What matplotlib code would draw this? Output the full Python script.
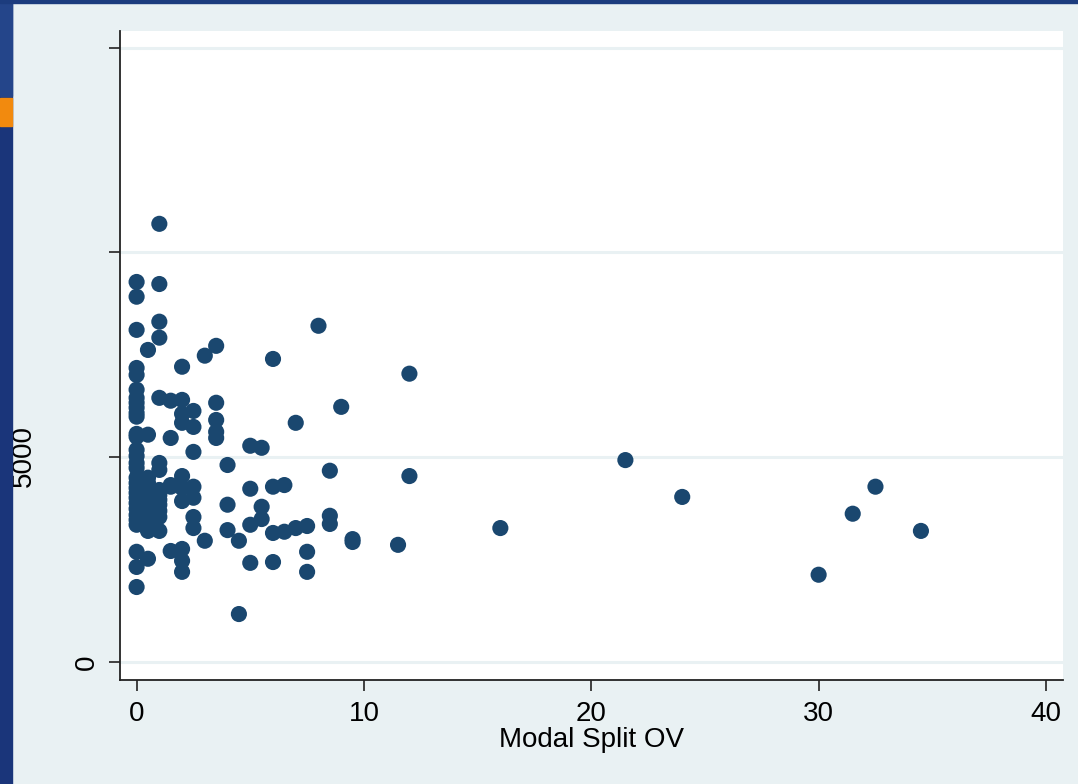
import matplotlib.pyplot as plt
from matplotlib.patches import Rectangle

plt.rcParams['font.family'] = ['Liberation Sans', 'DejaVu Sans']

# modal split of public transport (%) and the outcome per municipality
modal_split = (
    [0] * 30 + [0.5] * 12 + [1] * 14 + [1.5] * 5 + [2] * 10 + [2.5] * 7
    + [3] * 2 + [3.5] * 5 + [4] * 3 + [4.5] * 2 + [5] * 4 + [5.5] * 3
    + [6] * 4 + [6.5] * 2 + [7] * 2 + [7.5] * 3 + [8] + [8.5] * 3 + [9]
    + [9.5] * 2 + [11.5] + [12] * 2 + [16] + [21.5] + [24] + [30]
    + [31.5] + [32.5] + [34.5]
)
value = [
    # 0
    9280, 8920, 8110, 7180, 7010, 6650, 6450, 6330, 6210, 6080,
    5990, 5570, 5500, 5180, 5030, 4860, 4740, 4500, 4370, 4250,
    4130, 4010, 3880, 3740, 3590, 3470, 3350, 2690, 2320, 1830,
    # 0.5
    7620, 5550, 4500, 4370, 4200, 4030, 3880, 3710, 3570, 3420, 3200, 2520,
    # 1
    10700, 9230, 8310, 7920, 6450, 4860, 4690, 4200, 4080, 3960,
    3840, 3690, 3540, 3200,
    # 1.5
    6380, 5470, 4320, 4280, 2710,
    # 2
    7210, 6400, 6060, 5840, 4540, 4250, 3930, 2760, 2470, 2200,
    # 2.5
    6130, 5740, 5130, 4280, 4010, 3540, 3270,
    # 3
    7480, 2960,
    # 3.5
    7720, 6330, 5910, 5620, 5470,
    # 4
    4810, 3840, 3220,
    # 4.5
    2960, 1170,
    # 5
    5280, 4230, 3350, 2420,
    # 5.5
    5230, 3790, 3490,
    # 6
    7400, 4280, 3150, 2440,
    # 6.5
    4320, 3180,
    # 7
    5840, 3270,
    # 7.5
    3320, 2690, 2200,
    # 8
    8210,
    # 8.5
    4670, 3570, 3370,
    # 9
    6230,
    # 9.5
    3000, 2930,
    # 11.5
    2860,
    # 12
    7040, 4540,
    # 16 and up
    3270, 4930, 4030, 2130, 3620, 4280, 3200,
]

x_ticks = [0, 10, 20, 30, 40]
y_ticks = [0, 5000, 10000, 15000]
y_ticklabels = ['0', '', '', '']

bg = '#E9F1F3'
navy = '#1A476F'

fig = plt.figure(figsize=(10.78, 7.84), dpi=100, facecolor=bg)
ax = fig.add_axes([0.1109, 0.1327, 0.8752, 0.8278])
ax.set_facecolor('white')

ax.scatter(modal_split, value, s=135, color=navy, edgecolors='none', zorder=3)

ax.set_xlim(-0.75, 40.75)
ax.set_ylim(-440, 15410)
ax.set_xticks(x_ticks)
ax.set_yticks(y_ticks)
ax.set_yticklabels(y_ticklabels, rotation=90, va='center')
ax.grid(axis='y', color=bg, lw=2.2)
ax.set_axisbelow(True)

for side in ['top', 'right']:
    ax.spines[side].set_visible(False)
for side in ['left', 'bottom']:
    ax.spines[side].set_color('#222222')
    ax.spines[side].set_linewidth(1.3)
ax.tick_params(direction='out', length=8, width=1.2, color='#222222',
               labelsize=20, pad=6)
ax.tick_params(axis='x', pad=7)
ax.set_xlabel('Modal Split OV', fontsize=20, labelpad=0)

fig.text(24 / 1078, 1 - 456 / 784, '5000', rotation=90, fontsize=20,
         ha='center', va='center')

# slide border: dark band on the left and top with an orange marker
fig.patches.append(Rectangle((0, 0), 12 / 1078, 1, transform=fig.transFigure,
                             color='#1A357A', zorder=5))
fig.patches.append(Rectangle((0, 1 - 96 / 784), 12 / 1078, 96 / 784,
                             transform=fig.transFigure, color='#24458A', zorder=5))
fig.patches.append(Rectangle((0, 1 - 126 / 784), 12 / 1078, 28 / 784,
                             transform=fig.transFigure, color='#F28A0E', zorder=6))
fig.patches.append(Rectangle((0, 1 - 3 / 784), 1, 3 / 784,
                             transform=fig.transFigure, color='#1C3C7E', zorder=5))

fig.savefig('out.png', dpi=100, facecolor=bg)
